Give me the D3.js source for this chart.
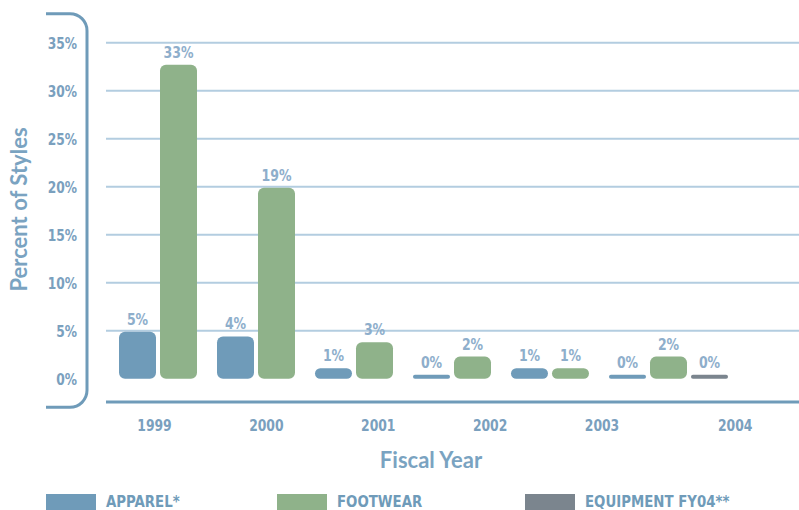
<!DOCTYPE html>
<html>
<head>
<meta charset="utf-8">
<script src="https://cdn.jsdelivr.net/npm/d3@7"></script>
<style>
  html, body { margin: 0; padding: 0; background: #ffffff; }
  svg { display: block; }
  .cond { font-family: "DejaVu Sans Condensed", "DejaVu Sans", sans-serif; font-weight: bold; }
  .title { font-family: Lato, "Open Sans", sans-serif; font-weight: bold; }
</style>
</head>
<body>
<svg id="chart" width="799" height="510"></svg>
<script>
// ---- data ----
const years = ["1999", "2000", "2001", "2002", "2003", "2004"];
const apparelValues = [4.9, 4.4, 1.1, 0.4, 1.1, 0.4];
const footwearValues = [32.7, 19.9, 3.8, 2.3, 1.1, 2.3];
const equipmentValues = [null, null, null, null, null, 0.4];
const apparelLabels = ["5%", "4%", "1%", "0%", "1%", "0%"];
const footwearLabels = ["33%", "19%", "3%", "2%", "1%", "2%"];
const equipmentLabels = ["", "", "", "", "", "0%"];
const seriesNames = ["APPAREL*", "FOOTWEAR", "EQUIPMENT FY04**"];
const seriesColors = ["#6f9bb9", "#8fb28a", "#7b858e"];
const yTicks = [0, 5, 10, 15, 20, 25, 30, 35];
const yAxisTitle = "Percent of Styles";
const xAxisTitle = "Fiscal Year";

const series = [
  { name: seriesNames[0], values: apparelValues, labels: apparelLabels, color: seriesColors[0] },
  { name: seriesNames[1], values: footwearValues, labels: footwearLabels, color: seriesColors[1] },
  { name: seriesNames[2], values: equipmentValues, labels: equipmentLabels, color: seriesColors[2] }
];

const svg = d3.select("#chart");

// ---- scales ----
const y = d3.scaleLinear().domain([0, 35]).range([378.7, 42.7]);
const xGroup = d3.scaleBand().domain(years).range([119, 119 + 6 * 98]).paddingInner(0).paddingOuter(0);
const xInner = d3.scaleBand().domain(seriesNames).range([0, 119]).paddingInner(4 / 41);
const xLabel = d3.scaleLinear().domain([0, 4, 5]).range([154.5, 602, 735.2]);

const gridColor = "#b3cde0";
const axisColor = "#6f9bb9";

// ---- gridlines ----
svg.append("g").selectAll("line")
  .data(yTicks.filter(d => d > 0))
  .join("line")
  .attr("x1", 106).attr("x2", 799)
  .attr("y1", d => y(d)).attr("y2", d => y(d))
  .attr("stroke", gridColor).attr("stroke-width", 2);

// ---- y tick labels ----
svg.append("g").selectAll("text")
  .data(yTicks)
  .join("text")
  .attr("class", "cond")
  .attr("transform", d => `translate(77,${y(d)}) scale(0.83,1)`)
  .attr("dy", "0.39em")
  .attr("text-anchor", "end")
  .attr("font-size", 16.4)
  .attr("fill", "#7aa0be")
  .text(d => d + "%");

// ---- left bracket ----
const bx = 87, bl = 46, bt = 13.7, bb = 407.3, r = 17;
svg.append("path")
  .attr("d", `M${bl},${bt} H${bx - r} A${r},${r} 0 0 1 ${bx},${bt + r} V${bb - r} A${r},${r} 0 0 1 ${bx - r},${bb} H${bl}`)
  .attr("fill", "none").attr("stroke", axisColor).attr("stroke-width", 3);

// ---- bottom axis line ----
svg.append("line")
  .attr("x1", 106).attr("x2", 799).attr("y1", 402).attr("y2", 402)
  .attr("stroke", axisColor).attr("stroke-width", 3);

// ---- bars ----
const barData = [];
series.forEach(s => {
  years.forEach((yr, i) => {
    if (s.values[i] != null) barData.push({ year: yr, series: s.name, value: s.values[i], label: s.labels[i], color: s.color });
  });
});

const bw = xInner.bandwidth();
svg.append("g").selectAll("rect")
  .data(barData)
  .join("rect")
  .attr("x", d => xGroup(d.year) + xInner(d.series))
  .attr("y", d => y(d.value))
  .attr("width", bw)
  .attr("height", d => y(0) - y(d.value))
  .attr("rx", d => Math.min(6, (y(0) - y(d.value)) / 2))
  .attr("ry", d => Math.min(6, (y(0) - y(d.value)) / 2))
  .attr("fill", d => d.color);

// ---- value labels ----
svg.append("g").selectAll("text")
  .data(barData)
  .join("text")
  .attr("class", "cond")
  .attr("transform", d => `translate(${xGroup(d.year) + xInner(d.series) + bw / 2},${y(d.value) - 7}) scale(0.87,1)`)
  .attr("text-anchor", "middle")
  .attr("font-size", 16)
  .attr("fill", "#8eaecb")
  .text(d => d.label);

// ---- x tick labels ----
svg.append("g").selectAll("text")
  .data(years)
  .join("text")
  .attr("class", "cond")
  .attr("transform", (d, i) => `translate(${xLabel(i)},431) scale(0.84,1)`)
  .attr("text-anchor", "middle")
  .attr("font-size", 16.4)
  .attr("fill", "#7aa0be")
  .text(d => d);

// ---- axis titles ----
svg.append("text")
  .attr("class", "title")
  .attr("x", 431).attr("y", 468.3)
  .attr("text-anchor", "middle")
  .attr("font-size", 22)
  .attr("fill", "#7aa3c1")
  .text(xAxisTitle);

svg.append("text")
  .attr("class", "title")
  .attr("transform", "translate(26.7,209.5) rotate(-90)")
  .attr("text-anchor", "middle")
  .attr("font-size", 22)
  .attr("fill", "#7aa3c1")
  .text(yAxisTitle);

// ---- legend ----
const legendX = d3.scaleOrdinal().domain(seriesNames).range([46, 277, 525]);
const lg = svg.append("g").selectAll("g")
  .data(series)
  .join("g")
  .attr("transform", d => `translate(${legendX(d.name)},494)`);
lg.append("rect").attr("width", 50).attr("height", 16).attr("fill", d => d.color);
lg.append("text")
  .attr("class", "cond")
  .attr("transform", "translate(60,12.5) scale(0.95,1)")
  .attr("font-size", 15.6)
  .attr("fill", "#6f9bb9")
  .text(d => d.name);
</script>
</body>
</html>
